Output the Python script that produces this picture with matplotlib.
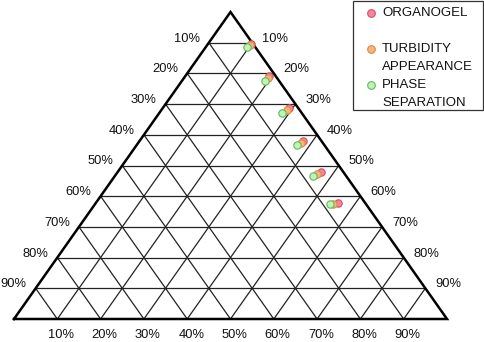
import numpy as np
import matplotlib
matplotlib.use("Agg")
import matplotlib.pyplot as plt
from matplotlib.lines import Line2D
from matplotlib.patches import Rectangle

plt.rcParams['font.family'] = ['Liberation Sans', 'DejaVu Sans']

# compositions in %, b = right-side component, c = left-side component
organogel_b = [0.5, 1.6, 2.2, 4.2, 5.3, 6.2]
organogel_c = [9.9, 19.4, 29.0, 37.8, 46.9, 56.0]
turbidity_b = [0.9, 2.2, 3.0, 5.1, 6.5, 7.5]
turbidity_c = [9.9, 19.4, 28.9, 37.5, 46.3, 55.0]
phase_b = [1.8, 3.2, 4.6, 6.2, 7.7, 8.4]
phase_c = [9.5, 19.2, 28.4, 37.1, 45.7, 54.2]

ticks = [10, 20, 30, 40, 50, 60, 70, 80, 90]
tick_labels = ["%d%%" % t for t in ticks]

series = [
    ("ORGANOGEL", organogel_b, organogel_c, "#f3879c", "#d94a63"),
    ("TURBIDITY\nAPPEARANCE", turbidity_b, turbidity_c, "#f8b47c", "#e0893f"),
    ("PHASE\nSEPARATION", phase_b, phase_c, "#c2f2b8", "#5dbb5a"),
]


def to_xy(b, c):
    b = np.asarray(b) / 100.0
    c = np.asarray(c) / 100.0
    a = 1 - b - c
    return c + a / 2, a


W, H = 485, 342
fig = plt.figure(figsize=(W / 100, H / 100), dpi=100)
ax = fig.add_axes([14 / W, (H - 319) / H, 433 / W, 307 / H])
ax.set_xlim(0, 1)
ax.set_ylim(0, 1)
ax.axis("off")

# grid: horizontal rows, then the two slanted families
for t in ticks:
    for p0, p1 in [((t, 0), (0, t)),
                   ((100 - t, t), (0, t)),
                   ((t, 100 - t), (t, 0))]:
        x0, y0 = to_xy(*p0)
        x1, y1 = to_xy(*p1)
        ax.plot([x0, x1], [y0, y1], color="#222222", lw=0.9, zorder=1)

# outline
ax.plot([0, 0.5, 1, 0], [0, 1, 0, 0], color="black", lw=1.8, zorder=2,
        solid_joinstyle="miter", clip_on=False)

# axis labels
for t, lab in zip(ticks, tick_labels):
    p = t / 100
    ax.annotate(lab, (0.5 - p / 2, 1 - p), xytext=(-9, 4), textcoords="offset pixels",
                ha="right", va="center", fontsize=9.3, color="#111111")
    ax.annotate(lab, (0.5 + p / 2, 1 - p), xytext=(10, 4), textcoords="offset pixels",
                ha="left", va="center", fontsize=9.3, color="#111111")
    ax.annotate(lab, (p, 0), xytext=(4, -16), textcoords="offset pixels",
                ha="center", va="center", fontsize=9.3, color="#111111")

# points
for i, (name, b, c, fc, ec) in enumerate(series):
    x, y = to_xy(b, c)
    ax.plot(x, y, "o", ms=5.3, mfc=fc, mec=ec, mew=0.8, zorder=3 + i, clip_on=False)


# legend box drawn in figure pixels
def fp(x, y):
    return x / W, 1 - y / H


fig.add_artist(Rectangle(fp(353, 110), 130 / W, 109 / H, transform=fig.transFigure,
                         fill=False, edgecolor="#333333", lw=0.9))
legend_rows = [13, 49, 85]
for (name, b, c, fc, ec), yy in zip(series, legend_rows):
    mx, my = fp(371, yy)
    fig.add_artist(Line2D([mx], [my], marker="o", ms=5.5,
                          mfc=fc, mec=ec, mew=0.8, transform=fig.transFigure))
    for k, line in enumerate(name.split("\n")):
        tx, ty = fp(382, yy + 17.5 * k)
        fig.text(tx, ty, line, ha="left", va="center", fontsize=9.5, color="#111111")

fig.savefig("out.png", dpi=100)
